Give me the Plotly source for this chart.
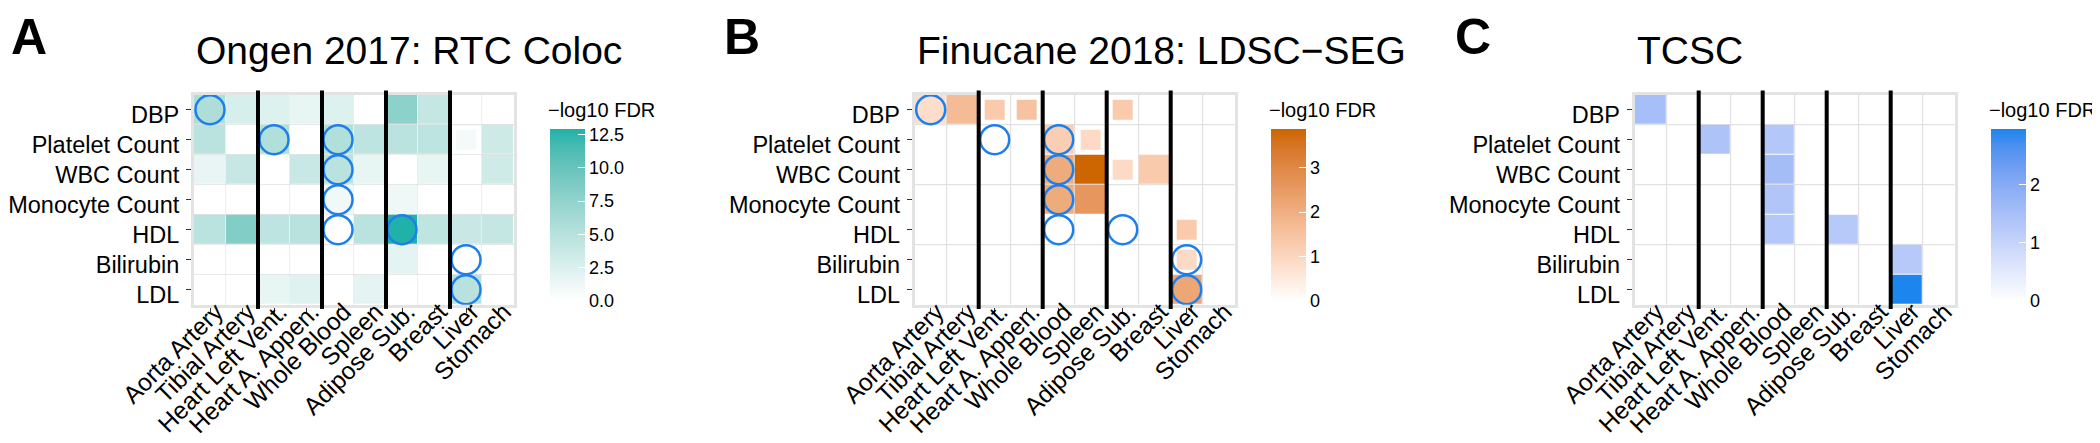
import plotly.graph_objects as go

# ---------------- data ----------------
tissues = ["Aorta Artery", "Tibial Artery", "Heart Left Vent.", "Heart A. Appen.",
           "Whole Blood", "Spleen", "Adipose Sub.", "Breast", "Liver", "Stomach"]
tissue_groups = ["Artery", "Artery", "Heart", "Heart", "Blood", "Blood",
                 "Adipose", "Adipose", "Digestive", "Digestive"]
traits = ["DBP", "Platelet Count", "WBC Count", "Monocyte Count", "HDL", "Bilirubin", "LDL"]

N = None
# Panel A: Ongen 2017 RTC Coloc (-log10 FDR); rows = traits, cols = tissues
ongen_tile = [
    [5.6, 2.8, 2.4, 1.7, 2.4, 0.0, 7.8, 4.1, 0.0, 0.0],
    [4.8, 0.0, 5.4, 0.0, 5.4, 4.6, 4.8, 4.6, N, 3.5],
    [1.6, 4.0, 0.0, 3.9, 4.8, 1.7, 0.0, 1.7, 0.0, 3.4],
    [0.0, 0.0, 0.0, 0.0, 1.0, 0.0, 1.1, 0.0, 0.0, 0.0],
    [4.8, 8.4, 4.6, 4.9, 0.0, 4.8, 12.9, 4.5, 3.8, 4.1],
    [0.0, 0.0, 0.0, 0.0, 0.0, 0.0, 1.9, 0.0, 0.0, 0.0],
    [0.0, 0.0, 1.7, 2.2, 0.0, 1.8, 0.0, 0.0, 4.9, 0.0],
]
ongen_inset = [
    [N, N, N, N, N, N, N, N, N, N],
    [N, N, N, N, N, N, N, N, 0.8, N],
    [N, N, N, N, N, N, N, N, N, N],
    [N, N, N, N, N, N, N, N, N, N],
    [N, N, N, N, N, N, N, N, N, N],
    [N, N, N, N, N, N, N, N, N, N],
    [N, N, N, N, N, N, N, N, N, N],
]
# Panel B: Finucane 2018 LDSC-SEG
finucane_tile = [
    [0.8, 1.7, N, N, N, N, N, N, N, N],
    [N, N, N, N, 1.2, N, N, N, N, N],
    [N, N, N, N, 2.1, 3.87, N, 1.3, N, N],
    [N, N, N, N, 2.1, 2.6, N, N, N, N],
    [N, N, N, N, N, N, N, N, N, N],
    [N, N, N, N, N, N, N, N, N, N],
    [N, N, N, N, N, N, N, N, 2.2, N],
]
finucane_inset = [
    [N, N, 1.3, 1.5, N, N, 1.3, N, N, N],
    [N, N, N, N, N, 0.9, N, N, N, N],
    [N, N, N, N, N, N, 0.9, N, N, N],
    [N, N, N, N, N, N, N, N, N, N],
    [N, N, N, N, N, N, N, N, 1.3, N],
    [N, N, N, N, N, N, N, N, 0.9, N],
    [N, N, N, N, N, N, N, N, N, N],
]
# Panel C: TCSC
tcsc_tile = [
    [1.5, N, N, N, N, N, N, N, N, N],
    [N, N, 1.4, N, 1.3, N, N, N, N, N],
    [N, N, N, N, 1.55, N, N, N, N, N],
    [N, N, N, N, 1.35, N, N, N, N, N],
    [N, N, N, N, 1.3, N, 1.25, N, N, N],
    [N, N, N, N, N, N, N, N, 1.25, N],
    [N, N, N, N, N, N, N, N, 2.95, N],
]
# known trait-tissue pairs (blue circles)
known_traits = ["DBP", "Platelet Count", "Platelet Count", "WBC Count",
                "Monocyte Count", "HDL", "HDL", "Bilirubin", "LDL"]
known_tissues = ["Aorta Artery", "Heart Left Vent.", "Whole Blood", "Whole Blood",
                 "Whole Blood", "Whole Blood", "Adipose Sub.", "Liver", "Liver"]

panel_titles = ["Ongen 2017: RTC Coloc", "Finucane 2018: LDSC\u2212SEG", "TCSC"]
panel_letters = ["A", "B", "C"]
legend_title = "\u2212log10 FDR"

# ---------------- styling helpers ----------------
W, H = 2100, 443
FONT = "Liberation Sans, Arial, Helvetica, sans-serif"


def hex2rgb(h):
    h = h.lstrip("#")
    return [int(h[i:i + 2], 16) for i in (0, 2, 4)]


def _lin(c):
    c = c / 255.0
    return c / 12.92 if c <= 0.04045 else ((c + 0.055) / 1.055) ** 2.4


def _gam(c):
    c = 12.92 * c if c <= 0.0031308 else 1.055 * c ** (1 / 2.4) - 0.055
    return max(0, min(255, round(c * 255)))


def rgb2lab(rgb):
    r, g, b = [_lin(v) for v in rgb]
    X = (0.4124 * r + 0.3576 * g + 0.1805 * b) / 0.95047
    Y = (0.2126 * r + 0.7152 * g + 0.0722 * b)
    Z = (0.0193 * r + 0.1192 * g + 0.9505 * b) / 1.08883
    f = lambda t: t ** (1 / 3) if t > 0.008856 else 7.787 * t + 16 / 116
    fx, fy, fz = f(X), f(Y), f(Z)
    return [116 * fy - 16, 500 * (fx - fy), 200 * (fy - fz)]


def lab2rgb(lab):
    L, a, b = lab
    fy = (L + 16) / 116
    fx = fy + a / 500
    fz = fy - b / 200
    finv = lambda t: t ** 3 if t ** 3 > 0.008856 else (t - 16 / 116) / 7.787
    X, Y, Z = finv(fx) * 0.95047, finv(fy), finv(fz) * 1.08883
    r = 3.2406 * X - 1.5372 * Y - 0.4986 * Z
    g = -0.9689 * X + 1.8758 * Y + 0.0415 * Z
    bb = 0.0557 * X - 0.2040 * Y + 1.0570 * Z
    return [_gam(max(0, r)), _gam(max(0, g)), _gam(max(0, bb))]


def lab_scale(high, n=11):
    lo, hi = rgb2lab([255, 255, 255]), rgb2lab(hex2rgb(high))
    out = []
    for i in range(n):
        t = i / (n - 1)
        c = lab2rgb([lo[k] + (hi[k] - lo[k]) * t for k in range(3)])
        out.append([t, "rgb(%d,%d,%d)" % tuple(c)])
    return out


panels = [
    dict(tile=ongen_tile, inset=ongen_inset, circles=True, high="#20B2AA",
         left=186, full_grid=True, tickvals=[0, 2.5, 5, 7.5, 10, 12.5], fmt=".1f"),
    dict(tile=finucane_tile, inset=finucane_inset, circles=True, high="#CD6600",
         left=906.7, full_grid=False, tickvals=[0, 1, 2, 3], fmt="d"),
    dict(tile=tcsc_tile, inset=None, circles=False, high="#1C86EE",
         left=1626.7, full_grid=False, tickvals=[0, 1, 2], fmt="d"),
]

PW = 320          # panel width in px
TOP, BOT = 86.7, 296.7
CB_TOP, CB_BOT = 121, 293
CIRCLE = "#1C7FEA"

fig = go.Figure()
shapes, annotations = [], []
bounds = [j + 0.5 for j in range(len(tissues) - 1)]
group_bounds = [j + 0.5 for j in range(len(tissues) - 1) if tissue_groups[j] != tissue_groups[j + 1]]

for i, p in enumerate(panels):
    sfx = "" if i == 0 else str(i + 1)
    xr, yr = "x" + sfx, "y" + sfx
    vals = [v for row in p["tile"] for v in row if v is not None]
    if p["inset"]:
        vals += [v for row in p["inset"] for v in row if v is not None]
    zmax = max(vals)
    cs = lab_scale(p["high"])
    cb_left = p["left"] + PW + 36
    fig.add_trace(go.Heatmap(
        x=tissues, y=traits, z=p["tile"], xaxis=xr, yaxis=yr,
        colorscale=cs, zmin=0, zmax=zmax, xgap=1, ygap=1, hoverongaps=False,
        showscale=True,
        colorbar=dict(
            x=cb_left / W, xanchor="left", xpad=0,
            y=1 - CB_BOT / H, yanchor="bottom", ypad=0,
            len=CB_BOT - CB_TOP, lenmode="pixels", thickness=35, thicknessmode="pixels",
            outlinewidth=0, ticks="inside", tickcolor="white", ticklen=7, tickwidth=1,
            tickvals=p["tickvals"], tickformat=p["fmt"],
            tickfont=dict(family=FONT, size=18, color="black"),
        ),
    ))
    annotations.append(dict(text=legend_title, xref="paper", x=(cb_left - 3) / W, xanchor="left",
                            yref="paper", y=1 - 102 / H, yanchor="middle", showarrow=False,
                            borderpad=0, font=dict(family=FONT, size=20, color="black")))
    if p["inset"]:
        ix, iy, iv = [], [], []
        for r, trait in enumerate(traits):
            for c, tissue in enumerate(tissues):
                v = p["inset"][r][c]
                if v is not None:
                    ix.append(tissue); iy.append(trait); iv.append(v)
        fig.add_trace(go.Scatter(
            x=ix, y=iy, mode="markers", xaxis=xr, yaxis=yr,
            marker=dict(symbol="square", size=20, color=iv, colorscale=cs,
                        cmin=0, cmax=zmax, line=dict(width=0), showscale=False),
        ))
    if p["circles"]:
        fig.add_trace(go.Scatter(
            x=known_tissues, y=known_traits, mode="markers", xaxis=xr, yaxis=yr,
            marker=dict(symbol="circle-open", size=29, color=CIRCLE, line=dict(width=2.5)),
        ))

    dom = [p["left"] / W, (p["left"] + PW) / W]
    ydom = [1 - BOT / H, 1 - TOP / H]
    axcommon = dict(showgrid=False, zeroline=False, showline=True, linecolor="#E3E3E3",
                    linewidth=3, mirror=True, ticks="outside", ticklen=5, tickwidth=1.2,
                    tickcolor="#333333",
                    fixedrange=True, automargin=False, tickmode="linear", tick0=0, dtick=1)
    fig.layout["xaxis" + sfx] = dict(
        domain=dom, anchor=yr, type="category", categoryorder="array",
        categoryarray=tissues, range=[-0.5, len(tissues) - 0.5], tickangle=-45,
        ticklabelstandoff=-25, ticklabelshift=6,
        tickfont=dict(family=FONT, size=24.5, color="black"), **axcommon)
    fig.layout["yaxis" + sfx] = dict(
        domain=ydom, anchor=xr, type="category", categoryorder="array",
        categoryarray=traits[::-1], range=[-0.5, len(traits) - 0.5],
        ticklabelshift=5, ticklabelstandoff=2,
        tickfont=dict(family=FONT, size=23.5, color="black"), **axcommon)

    # grey grid at tile boundaries
    vgrid = bounds if p["full_grid"] else [b for b in bounds if b not in group_bounds]
    hgrid = [k + 0.5 for k in range(len(traits) - 1)] if p["full_grid"] else \
        [k + 0.5 for k in range(1, len(traits) - 1, 2)]
    for b in vgrid:
        shapes.append(dict(type="line", xref=xr, yref=yr + " domain", x0=b, x1=b, y0=0, y1=1,
                           line=dict(color="#DCDCDC", width=1), layer="below"))
    for b in hgrid:
        shapes.append(dict(type="line", xref=xr + " domain", yref=yr, x0=0, x1=1, y0=b, y1=b,
                           line=dict(color="#DCDCDC", width=1), layer="below"))
    # black separators between tissue groups
    for b in group_bounds:
        shapes.append(dict(type="line", xref=xr, yref=yr + " domain", x0=b, x1=b,
                           y0=-0.02, y1=1.02, line=dict(color="black", width=4), layer="above"))

    annotations.append(dict(text=panel_titles[i], xref=xr + " domain", x=0, xanchor="left",
                            yref="paper", y=1 - 42 / H, yanchor="middle", showarrow=False,
                            font=dict(family=FONT, size=39, color="black")))

letter_x = [2, 715, 1446]
for i, L in enumerate(panel_letters):
    annotations.append(dict(text="<b>%s</b>" % L, xref="paper", x=letter_x[i] / W, xanchor="left",
                            yref="paper", y=1.0, yanchor="top", showarrow=False,
                            borderpad=0, font=dict(family=FONT, size=50, color="black")))

fig.update_layout(
    width=W, height=H, margin=dict(l=0, r=0, t=0, b=0, autoexpand=False),
    paper_bgcolor="white", plot_bgcolor="white", showlegend=False,
    shapes=shapes, annotations=annotations, font=dict(family=FONT),
)

fig.write_html("out.html")
